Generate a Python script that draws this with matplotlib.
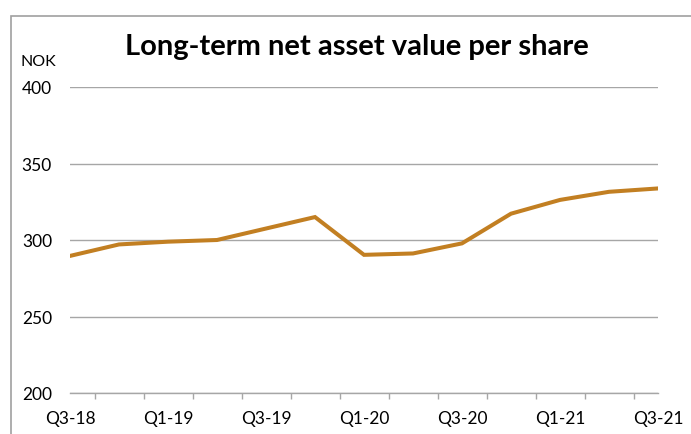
import matplotlib.pyplot as plt
from matplotlib.patches import Rectangle

plt.rcParams['font.family'] = ['Lato', 'DejaVu Sans']

quarters = ['Q3-18', 'Q4-18', 'Q1-19', 'Q2-19', 'Q3-19', 'Q4-19', 'Q1-20',
            'Q2-20', 'Q3-20', 'Q4-20', 'Q1-21', 'Q2-21', 'Q3-21']
nav = [289.6, 297.1, 298.9, 300.0, 307.5, 315.0, 290.3,
       291.2, 297.8, 317.2, 326.2, 331.5, 333.7]
y_ticks = [200, 250, 300, 350, 400]

W, H = 691, 435
fig = plt.figure(figsize=(W / 100, H / 100), dpi=100)

# outer chart border (clipped at right/bottom like the reference)
fig.patches.append(Rectangle((11 / W, -0.1), 1.2, 1.1 - 17 / H, transform=fig.transFigure,
                             fill=False, edgecolor='#A0A0A0', linewidth=1.2))

ax = fig.add_axes([70 / W, 1 - 394 / H, (658 - 70) / W, (394 - 88) / H])
x = list(range(len(quarters)))
ax.plot(x, nav, color='#C27F22', linewidth=2.9, solid_joinstyle='miter', zorder=3)

ax.set_xlim(0, len(quarters) - 1)
ax.set_ylim(200, 400)
ax.set_yticks(y_ticks)
ax.yaxis.grid(True, color='#A6A6A6', linewidth=1)
ax.set_axisbelow(True)
ax.tick_params(axis='y', length=0, pad=13, labelsize=12.5)

ax.set_xticks(x[::2])
ax.set_xticklabels(quarters[::2])
ax.set_xticks([i + 0.5 for i in range(len(quarters) - 1)] + [len(quarters) - 1], minor=True)
ax.tick_params(axis='x', which='major', length=0, pad=12, labelsize=12.5)
ax.tick_params(axis='x', which='minor', length=4, color='#A6A6A6', width=1)

for s in ['left', 'right', 'top']:
    ax.spines[s].set_visible(False)
ax.spines['bottom'].set_color('#A6A6A6')
ax.spines['bottom'].set_linewidth(1)

fig.text(357 / W, 1 - 47 / H, 'Long-term net asset value per share', ha='center', va='center',
         fontsize=21, fontweight='bold')
fig.text(38 / W, 1 - 62 / H, 'NOK', ha='center', va='center', fontsize=11.5)

fig.savefig('out.png', dpi=100)
